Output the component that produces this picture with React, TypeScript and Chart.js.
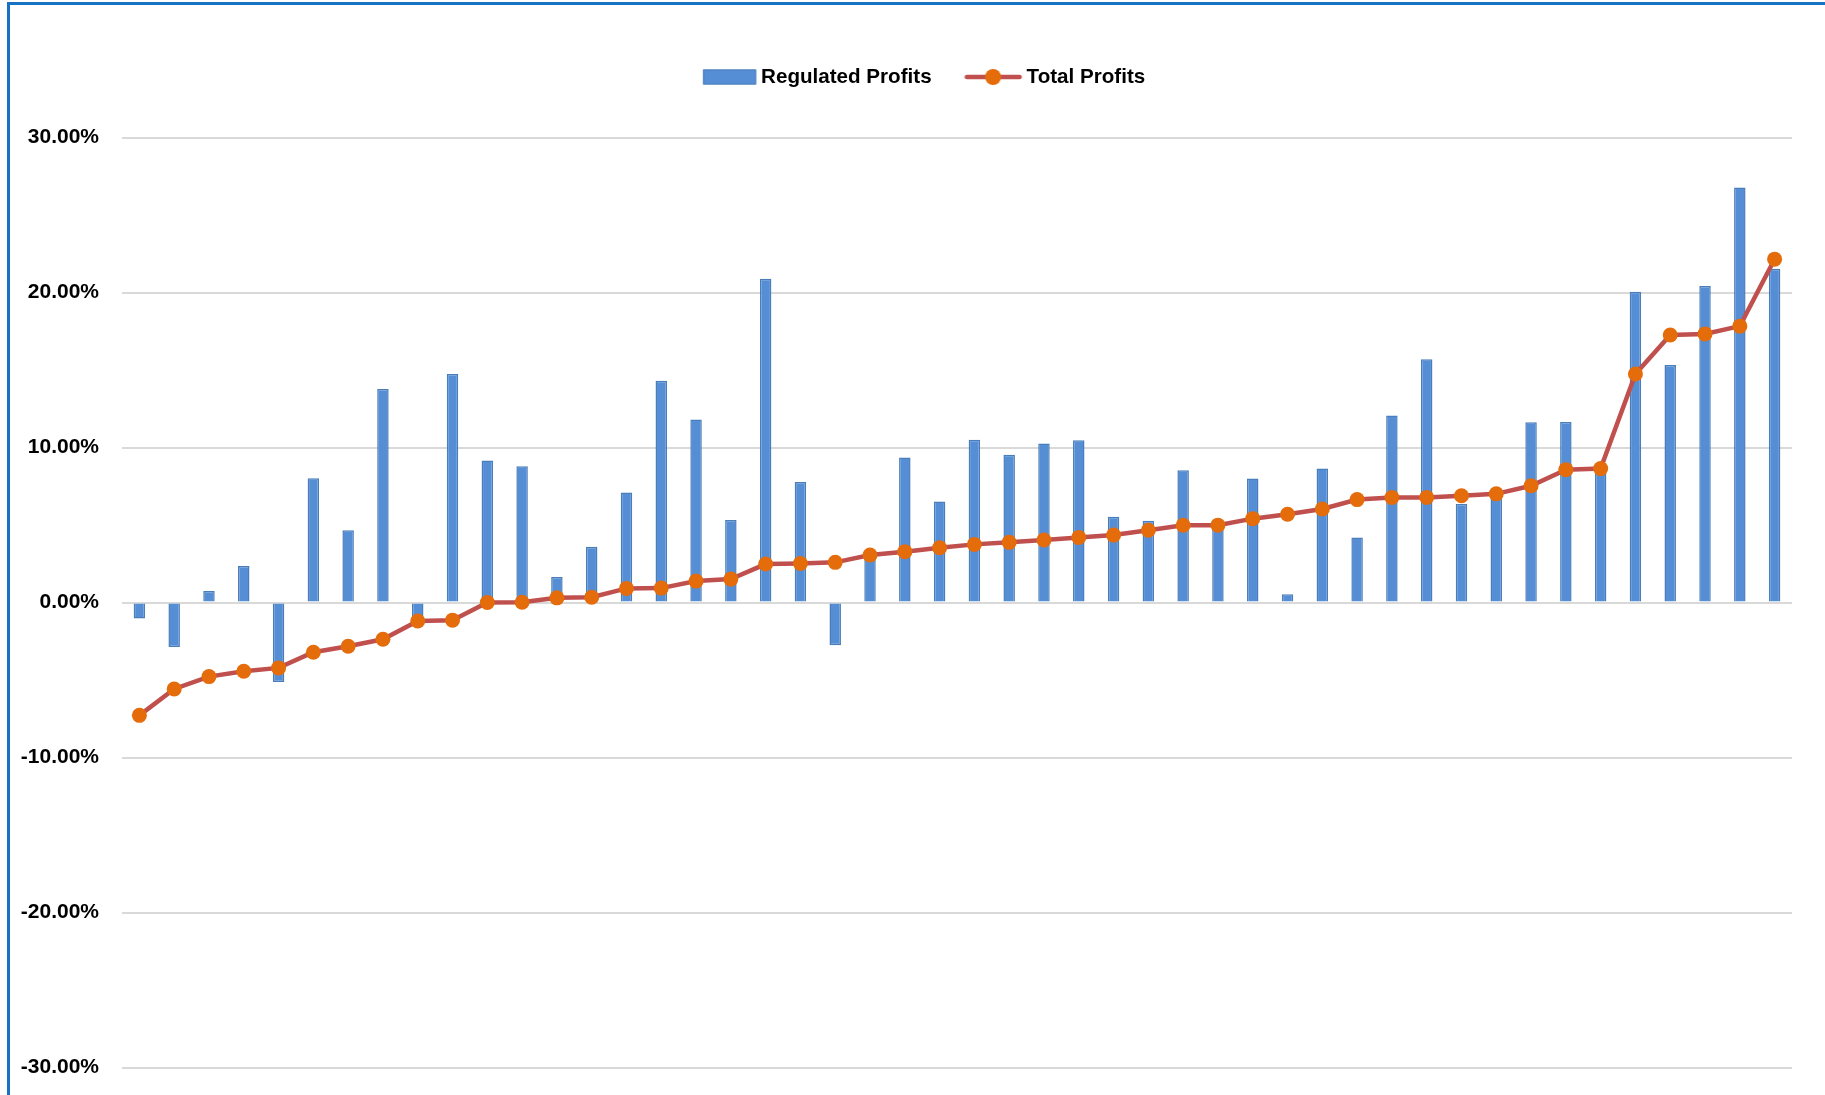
import React, { useEffect, useRef } from 'react';
import { Chart, registerables } from 'chart.js';

Chart.register(...registerables);

const categories = [
  '1', '2', '3', '4', '5', '6', '7', '8', '9', '10', '11', '12',
  '13', '14', '15', '16', '17', '18', '19', '20', '21', '22', '23', '24',
  '25', '26', '27', '28', '29', '30', '31', '32', '33', '34', '35', '36',
  '37', '38', '39', '40', '41', '42', '43', '44', '45', '46', '47', '48',
];

const regulatedProfits = [
  -1.03, -2.87, 0.75, 2.35, -5.13, 8.02, 4.66, 13.77, -1.0, 14.74, 9.16, 8.79,
  1.64, 3.6, 7.09, 14.31, 11.81, 5.32, 20.88, 7.78, -2.76, 2.9, 9.35, 6.51,
  10.5, 9.53, 10.26, 10.47, 5.54, 5.28, 8.53, 4.9, 8.0, 0.54, 8.64, 4.2,
  12.07, 15.7, 6.35, 6.9, 11.63, 11.65, 8.5, 20.05, 15.33, 20.42, 26.77, 21.53,
];

const totalProfits = [
  -7.28, -5.58, -4.78, -4.44, -4.22, -3.21, -2.82, -2.37, -1.19, -1.14, 0.0, 0.02,
  0.3, 0.34, 0.91, 0.93, 1.38, 1.51, 2.48, 2.52, 2.59, 3.06, 3.28, 3.53,
  3.75, 3.88, 4.03, 4.2, 4.35, 4.66, 4.98, 4.99, 5.41, 5.69, 6.03, 6.64,
  6.77, 6.78, 6.89, 7.01, 7.53, 8.57, 8.64, 14.74, 17.26, 17.33, 17.83, 22.15,
];

const seriesNames = ['Regulated Profits', 'Total Profits'];
const yTickValues = [-30, -20, -10, 0, 10, 20, 30];

const BAR_FILL = '#558ED5';
const BAR_BORDER = '#4A7EBB';
const LINE_COLOR = '#C0504D';
const POINT_COLOR = '#E46C0A';
const GRID_COLOR = '#D9D9D9';
const FONT = "'Liberation Sans', Arial, sans-serif";

const CANVAS_W = 1856;
const CANVAS_H = 1095;

function makeImage(w: number, h: number, draw: (ctx: CanvasRenderingContext2D) => void) {
  const c = document.createElement('canvas');
  c.width = w;
  c.height = h;
  const ctx = c.getContext('2d');
  if (ctx) draw(ctx);
  return c;
}

export default function App() {
  const canvasRef = useRef<HTMLCanvasElement>(null);

  useEffect(() => {
    const canvas = canvasRef.current;
    if (!canvas) return;

    const regImg = makeImage(70, 20, (ctx) => {
      ctx.fillStyle = BAR_FILL;
      ctx.fillRect(7.3, 2.5, 53, 15);
      ctx.strokeStyle = BAR_BORDER;
      ctx.lineWidth = 1;
      ctx.strokeRect(7.8, 3, 52, 14);
    });
    const totImg = makeImage(70, 20, (ctx) => {
      ctx.strokeStyle = LINE_COLOR;
      ctx.lineWidth = 4.5;
      ctx.lineCap = 'round';
      ctx.beginPath();
      ctx.moveTo(5.5, 10);
      ctx.lineTo(58.3, 10);
      ctx.stroke();
      ctx.fillStyle = POINT_COLOR;
      ctx.beginPath();
      ctx.arc(31.8, 10, 8, 0, Math.PI * 2);
      ctx.fill();
    });

    const yMin = yTickValues[0];
    const yMax = yTickValues[yTickValues.length - 1];

    const chart = new Chart(canvas, {
      type: 'bar',
      data: {
        labels: categories,
        datasets: [
          {
            type: 'bar',
            label: seriesNames[0],
            data: regulatedProfits,
            backgroundColor: BAR_FILL,
            borderColor: BAR_BORDER,
            borderWidth: 1.5,
            barPercentage: 0.33,
            categoryPercentage: 1,
            order: 1,
          },
          {
            type: 'line',
            label: seriesNames[1],
            data: totalProfits,
            borderColor: LINE_COLOR,
            borderWidth: 4.5,
            backgroundColor: POINT_COLOR,
            pointBackgroundColor: POINT_COLOR,
            pointBorderColor: POINT_COLOR,
            pointBorderWidth: 0,
            pointRadius: 7.5,
            tension: 0,
            order: 0,
          },
        ],
      },
      options: {
        responsive: false,
        animation: false,
        devicePixelRatio: 1,
        layout: {
          padding: { top: 22, left: 0, right: 0, bottom: 27.5 },
        },
        font: { family: FONT },
        plugins: {
          tooltip: { enabled: false },
          legend: {
            display: true,
            position: 'top',
            labels: {
              usePointStyle: true,
              pointStyleWidth: 40,
              padding: 44.7,
              color: '#000000',
              font: { family: FONT, size: 20.6, weight: 'bold' },
              generateLabels: (ch: any) => {
                const items = (Chart.defaults.plugins.legend.labels as any).generateLabels(ch);
                items.sort((a: any, b: any) => a.datasetIndex - b.datasetIndex);
                items.forEach((it: any) => {
                  it.pointStyle = it.datasetIndex === 0 ? regImg : totImg;
                  it.fontColor = '#000000';
                });
                return items;
              },
            },
          },
          title: {
            display: true,
            text: '',
            position: 'top',
            weight: 500,
            padding: 0,
            font: { size: 40.2, lineHeight: 1 },
          },
          subtitle: {
            display: true,
            text: '',
            position: 'right',
            fullSize: false,
            padding: 0,
            font: { size: CANVAS_W - 1792, lineHeight: 1 },
          },
        },
        scales: {
          x: {
            display: false,
            offset: true,
            grid: { display: false },
          },
          y: {
            min: yMin,
            max: yMax,
            afterFit: (scale: any) => {
              scale.width = 122;
            },
            border: { display: false },
            grid: {
              color: GRID_COLOR,
              lineWidth: 2,
              drawTicks: true,
              tickLength: 13,
              tickColor: 'rgba(0,0,0,0)',
            },
            ticks: {
              stepSize: 10,
              padding: 10,
              color: '#000000',
              font: { family: FONT, size: 21, weight: 'bold' },
              callback: (v: any) => Number(v).toFixed(2) + '%',
            },
          },
        },
      },
    } as any);

    return () => {
      chart.destroy();
    };
  }, []);

  return (
    <div style={{ position: 'absolute', left: 0, top: 0, width: 1825, height: 1095, background: '#ffffff', overflow: 'hidden' }}>
      <canvas
        ref={canvasRef}
        width={CANVAS_W}
        height={CANVAS_H}
        style={{ position: 'absolute', left: 0, top: 0, width: CANVAS_W, height: CANVAS_H }}
      />
      <div
        style={{
          position: 'absolute',
          left: 7,
          top: 2,
          width: 1825 - 7,
          height: 1095 - 2,
          borderTop: '3px solid #1872C4',
          borderLeft: '3px solid #1872C4',
          boxSizing: 'border-box',
          pointerEvents: 'none',
        }}
      />
    </div>
  );
}
